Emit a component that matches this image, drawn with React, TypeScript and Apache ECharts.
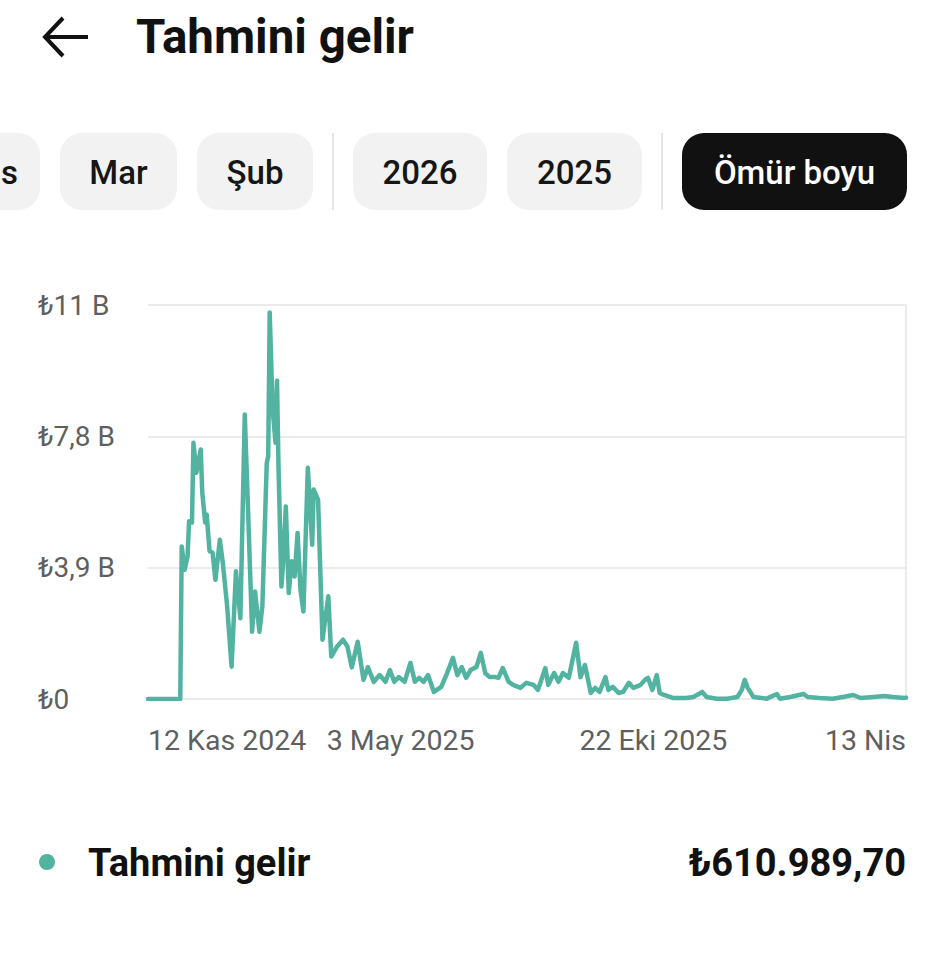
import { useEffect, useRef } from "react";
import * as echarts from "echarts";

const START_DATE = "2024-11-12";
const END_DATE = "2026-04-13";

const dates = [
  "2024-11-12", "2024-12-04", "2024-12-05", "2024-12-07", "2024-12-09", "2024-12-10", "2024-12-12", "2024-12-13",
  "2024-12-15", "2024-12-18", "2024-12-19", "2024-12-21", "2024-12-22", "2024-12-24", "2024-12-26", "2024-12-28",
  "2024-12-31", "2025-01-02", "2025-01-05", "2025-01-08", "2025-01-11", "2025-01-14", "2025-01-17", "2025-01-19",
  "2025-01-22", "2025-01-24", "2025-01-27", "2025-01-29", "2025-02-01", "2025-02-02", "2025-02-03", "2025-02-05",
  "2025-02-07", "2025-02-08", "2025-02-09", "2025-02-11", "2025-02-12", "2025-02-14", "2025-02-16", "2025-02-18",
  "2025-02-20", "2025-02-22", "2025-02-24", "2025-02-26", "2025-03-01", "2025-03-04", "2025-03-05", "2025-03-08",
  "2025-03-11", "2025-03-15", "2025-03-17", "2025-03-21", "2025-03-25", "2025-03-28", "2025-03-31", "2025-04-04",
  "2025-04-08", "2025-04-11", "2025-04-15", "2025-04-19", "2025-04-23", "2025-04-26", "2025-04-29", "2025-05-02",
  "2025-05-06", "2025-05-10", "2025-05-13", "2025-05-16", "2025-05-19", "2025-05-22", "2025-05-26", "2025-05-31",
  "2025-06-04", "2025-06-08", "2025-06-11", "2025-06-14", "2025-06-17", "2025-06-20", "2025-06-24", "2025-06-27",
  "2025-06-30", "2025-07-03", "2025-07-07", "2025-07-09", "2025-07-12", "2025-07-16", "2025-07-19", "2025-07-24",
  "2025-07-28", "2025-08-02", "2025-08-05", "2025-08-10", "2025-08-12", "2025-08-16", "2025-08-19", "2025-08-22",
  "2025-08-26", "2025-08-31", "2025-09-03", "2025-09-06", "2025-09-10", "2025-09-13", "2025-09-16", "2025-09-20",
  "2025-09-22", "2025-09-25", "2025-09-29", "2025-10-02", "2025-10-06", "2025-10-09", "2025-10-14", "2025-10-17",
  "2025-10-19", "2025-10-22", "2025-10-25", "2025-10-27", "2025-10-30", "2025-11-05", "2025-11-14", "2025-11-19",
  "2025-11-25", "2025-11-28", "2025-12-05", "2025-12-12", "2025-12-19", "2025-12-22", "2025-12-24", "2025-12-26",
  "2025-12-30", "2026-01-08", "2026-01-15", "2026-01-17", "2026-01-24", "2026-02-02", "2026-02-05", "2026-02-13",
  "2026-02-22", "2026-03-01", "2026-03-08", "2026-03-13", "2026-03-22", "2026-03-29", "2026-04-04", "2026-04-12",
  "2026-04-13",
];

// values in thousands of lira ("B" = bin)
const values = [
  0, 0, 4.53, 3.84, 4.24, 5.28, 5.24, 7.61,
  6.72, 7.41, 6.13, 5.24, 5.48, 4.39, 4.35, 3.54,
  4.73, 4.05, 2.75, 0.96, 3.79, 2.4, 8.45, 5.92,
  2.0, 3.19, 2.0, 2.75, 7.01, 7.21, 11.48, 8.6,
  7.61, 9.45, 6.92, 3.34, 3.94, 5.72, 3.15, 4.09,
  3.64, 4.93, 3.24, 2.6, 6.87, 4.58, 6.22, 5.92,
  1.76, 3.05, 1.26, 1.56, 1.76, 1.56, 0.94, 1.7,
  0.57, 0.95, 0.51, 0.71, 0.51, 0.86, 0.51, 0.65,
  0.51, 1.07, 0.51, 0.63, 0.51, 0.71, 0.21, 0.36,
  0.77, 1.22, 0.71, 0.95, 0.63, 0.86, 0.95, 1.37,
  0.77, 0.65, 0.65, 0.63, 0.92, 0.51, 0.42, 0.33,
  0.48, 0.42, 0.27, 0.92, 0.42, 0.77, 0.51, 0.77,
  0.63, 1.67, 0.65, 1.01, 0.18, 0.33, 0.21, 0.65,
  0.27, 0.36, 0.18, 0.21, 0.48, 0.33, 0.42, 0.57,
  0.63, 0.27, 0.71, 0.18, 0.12, 0.03, 0.03, 0.06,
  0.21, 0.06, 0.01, 0.01, 0.06, 0.27, 0.57, 0.33,
  0.06, 0.01, 0.15, 0.01, 0.06, 0.15, 0.06, 0.03,
  0.01, 0.06, 0.12, 0.03, 0.06, 0.09, 0.06, 0.03,
  0.04,
];

const xTickLabels = ["12 Kas 2024", "3 May 2025", "22 Eki 2025", "13 Nis"];
const yTickLabels = ["₺0", "₺3,9 B", "₺7,8 B", "₺11 B"];
const Y_MAX = 11.7;
const Y_STEP = 3.9;

// the first chip ("Nis") is scrolled off-screen; only its last letter shows
const periodChips = ["s", "Mar", "Şub", "2026", "2025", "Ömür boyu"];
const pageTitle = "Tahmini gelir";
const seriesName = "Tahmini gelir";
const totalLabel = "₺610.989,70";

const TEAL = "#52b3a1";
const FONT = "Roboto, 'Noto Sans', sans-serif";

const DAY = 86400000;
const dayOffset = (d: string) => Math.round((Date.parse(d) - Date.parse(START_DATE)) / DAY);
const X_MAX = dayOffset(END_DATE);
const X_STEP = X_MAX / 3;

export default function App() {
  const ref = useRef<HTMLDivElement>(null);
  useEffect(() => {
    if (!ref.current) return;
    const chart = echarts.init(ref.current, null, { renderer: "svg" });

    const chipBoxes = [
      { x: -77, w: 117 },
      { x: 60, w: 117 },
      { x: 197, w: 116 },
      { x: 353, w: 134 },
      { x: 507, w: 135 },
      { x: 682, w: 225 },
    ];
    const chipY = 133;
    const chipH = 77;
    const chipGraphics: any[] = [];
    periodChips.forEach((label, i) => {
      const b = chipBoxes[i];
      const active = i === periodChips.length - 1;
      const partial = i === 0;
      chipGraphics.push({
        type: "rect",
        shape: { x: b.x, y: chipY, width: b.w, height: chipH, r: 22 },
        style: { fill: active ? "#111111" : "#f2f2f2" },
      });
      chipGraphics.push({
        type: "text",
        x: partial ? 1 : b.x + b.w / 2,
        y: chipY + chipH / 2 + 1,
        style: {
          text: label,
          fill: active ? "#ffffff" : "#161616",
          fontSize: 33,
          fontWeight: 500,
          fontFamily: FONT,
          align: partial ? "left" : "center",
          verticalAlign: "middle",
        },
      });
    });

    chart.setOption({
      animation: false,
      backgroundColor: "#ffffff",
      grid: { left: 148, right: 39, top: 305, bottom: 254, containLabel: false },
      xAxis: {
        type: "value",
        min: 0,
        max: X_MAX,
        interval: X_STEP,
        axisLine: { show: false },
        axisTick: { show: false },
        splitLine: { show: false },
        axisLabel: {
          show: true,
          margin: 27,
          color: "#5f5f5f",
          fontSize: 28.5,
          fontFamily: FONT,
          alignMinLabel: "left",
          alignMaxLabel: "right",
          showMinLabel: true,
          showMaxLabel: true,
          formatter: (v: number) => xTickLabels[Math.round(v / X_STEP)] ?? "",
        },
      },
      yAxis: [
        {
          type: "value",
          min: 0,
          max: Y_MAX,
          interval: Y_STEP,
          axisLine: { show: false },
          axisTick: { show: false },
          splitLine: { show: true, lineStyle: { color: "#ebebeb", width: 2 } },
          axisLabel: {
            margin: 110,
            align: "left",
            color: "#5f5f5f",
            fontSize: 28,
            fontFamily: FONT,
            formatter: (v: number) => yTickLabels[Math.round(v / Y_STEP)] ?? "",
          },
        },
        {
          type: "value",
          position: "right",
          min: 0,
          max: Y_MAX,
          interval: Y_STEP,
          axisLine: { show: true, lineStyle: { color: "#ebebeb", width: 2 } },
          axisTick: { show: false },
          splitLine: { show: false },
          axisLabel: { show: false },
        },
      ],
      series: [
        {
          name: seriesName,
          type: "line",
          yAxisIndex: 0,
          data: dates.map((d, i) => [dayOffset(d), values[i]]),
          showSymbol: false,
          symbol: "none",
          lineStyle: { color: TEAL, width: 4.5, join: "round", cap: "round" },
          z: 5,
        },
      ],
      graphic: [
        {
          type: "polyline",
          shape: { points: [[63, 18], [45, 37], [63, 56]] },
          style: { stroke: "#111", lineWidth: 4, fill: null, lineJoin: "miter" },
        },
        {
          type: "line",
          shape: { x1: 46, y1: 37, x2: 88, y2: 37 },
          style: { stroke: "#111", lineWidth: 4 },
        },
        {
          type: "text",
          x: 136,
          y: 37,
          style: {
            text: pageTitle,
            fill: "#111111",
            fontSize: 47.5,
            fontWeight: "bold",
            fontFamily: FONT,
            align: "left",
            verticalAlign: "middle",
          },
        },
        ...chipGraphics,
        {
          type: "line",
          shape: { x1: 333, y1: 133, x2: 333, y2: 210 },
          style: { stroke: "#e6e6e6", lineWidth: 2 },
        },
        {
          type: "line",
          shape: { x1: 662, y1: 133, x2: 662, y2: 210 },
          style: { stroke: "#e6e6e6", lineWidth: 2 },
        },
        {
          type: "circle",
          shape: { cx: 47, cy: 862, r: 8 },
          style: { fill: TEAL },
        },
        {
          type: "text",
          x: 88,
          y: 863,
          style: {
            text: seriesName,
            fill: "#111111",
            fontSize: 38,
            fontWeight: "bold",
            fontFamily: FONT,
            align: "left",
            verticalAlign: "middle",
          },
        },
        {
          type: "text",
          x: 906,
          y: 863,
          style: {
            text: totalLabel,
            fill: "#111111",
            fontSize: 38,
            fontWeight: "bold",
            fontFamily: FONT,
            align: "right",
            verticalAlign: "middle",
          },
        },
      ],
    });
    return () => chart.dispose();
  }, []);
  return (
    <div
      ref={ref}
      style={{ position: "fixed", left: 0, top: 0, width: 945, height: 953, background: "#fff" }}
    />
  );
}
